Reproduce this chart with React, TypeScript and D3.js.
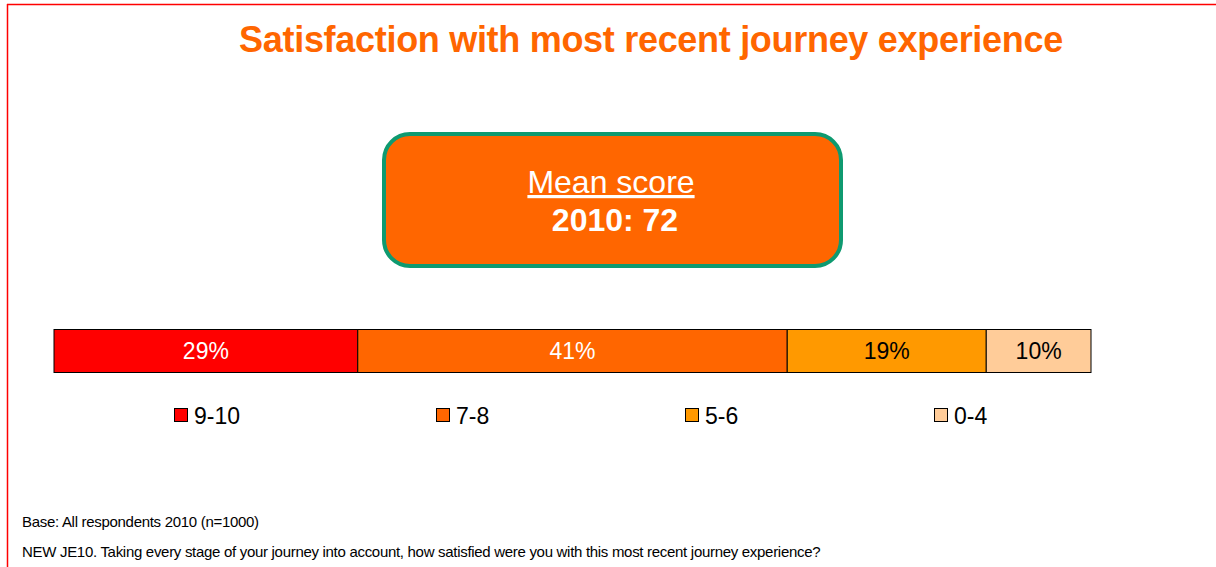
import React from "react";
import * as d3 from "d3";

const categories = ["9-10", "7-8", "5-6", "0-4"];
const values = [29, 41, 19, 10];
const colors = ["#FF0000", "#FF6600", "#FF9900", "#FFCC99"];
const labelColors = ["#FFFFFF", "#FFFFFF", "#000000", "#000000"];
const legendX = [175, 437, 686, 935];
const title = "Satisfaction with most recent journey experience";
const meanLabel = "Mean score";
const meanValue = "2010: 72";
const notes = [
  "Base: All respondents 2010 (n=1000)",
  "NEW JE10. Taking every stage of your journey into account, how satisfied were you with this most recent journey experience?",
];

export default function App() {
  const W = 1216, H = 567;
  const total = d3.sum(values);
  const x = d3.scaleLinear().domain([0, total]).range([54, 1091]);
  const starts = values.map((_, i) => d3.sum(values.slice(0, i)));
  const font = "Liberation Sans, Arial, sans-serif";
  return (
    <svg width={W} height={H} style={{ position: "absolute", left: 0, top: 0 }} fontFamily={font}>
      <rect x={0} y={0} width={W} height={H} fill="#fff" />
      <line x1={7.5} y1={4} x2={7.5} y2={H} stroke="#FF0000" strokeWidth={1.5} />
      <line x1={7} y1={4.5} x2={W} y2={4.5} stroke="#FF0000" strokeWidth={1.5} />
      <text x={651} y={52} textAnchor="middle" fill="#FF6600" fontSize={36} fontWeight="bold" letterSpacing={-0.3}>
        {title}
      </text>
      <rect x={384} y={134} width={457} height={132} rx={26} ry={26} fill="#FF6600" stroke="#0E9A70" strokeWidth={4} />
      <text x={611} y={193} textAnchor="middle" fill="#fff" fontSize={32} textDecoration="underline">
        {meanLabel}
      </text>
      <text x={615} y={231} textAnchor="middle" fill="#fff" fontSize={32} fontWeight="bold">
        {meanValue}
      </text>
      {values.map((v, i) => (
        <g key={categories[i]}>
          <rect x={x(starts[i])} y={329.5} width={x(starts[i] + v) - x(starts[i])} height={43} fill={colors[i]} stroke="#000" strokeWidth={1} />
          <text x={(x(starts[i]) + x(starts[i] + v)) / 2} y={359} textAnchor="middle" fill={labelColors[i]} fontSize={23}>
            {v}%
          </text>
        </g>
      ))}
      {categories.map((c, i) => (
        <g key={c}>
          <rect x={legendX[i] - 0.5} y={408.5} width={13} height={13} fill={colors[i]} stroke="#000" strokeWidth={1} />
          <text x={legendX[i] + 19} y={424} fontSize={23} fill="#000">
            {c}
          </text>
        </g>
      ))}
      <text x={22} y={527} fontSize={15} fill="#000" letterSpacing={-0.3}>{notes[0]}</text>
      <text x={22} y={557} fontSize={15} fill="#000" letterSpacing={-0.3}>{notes[1]}</text>
    </svg>
  );
}
